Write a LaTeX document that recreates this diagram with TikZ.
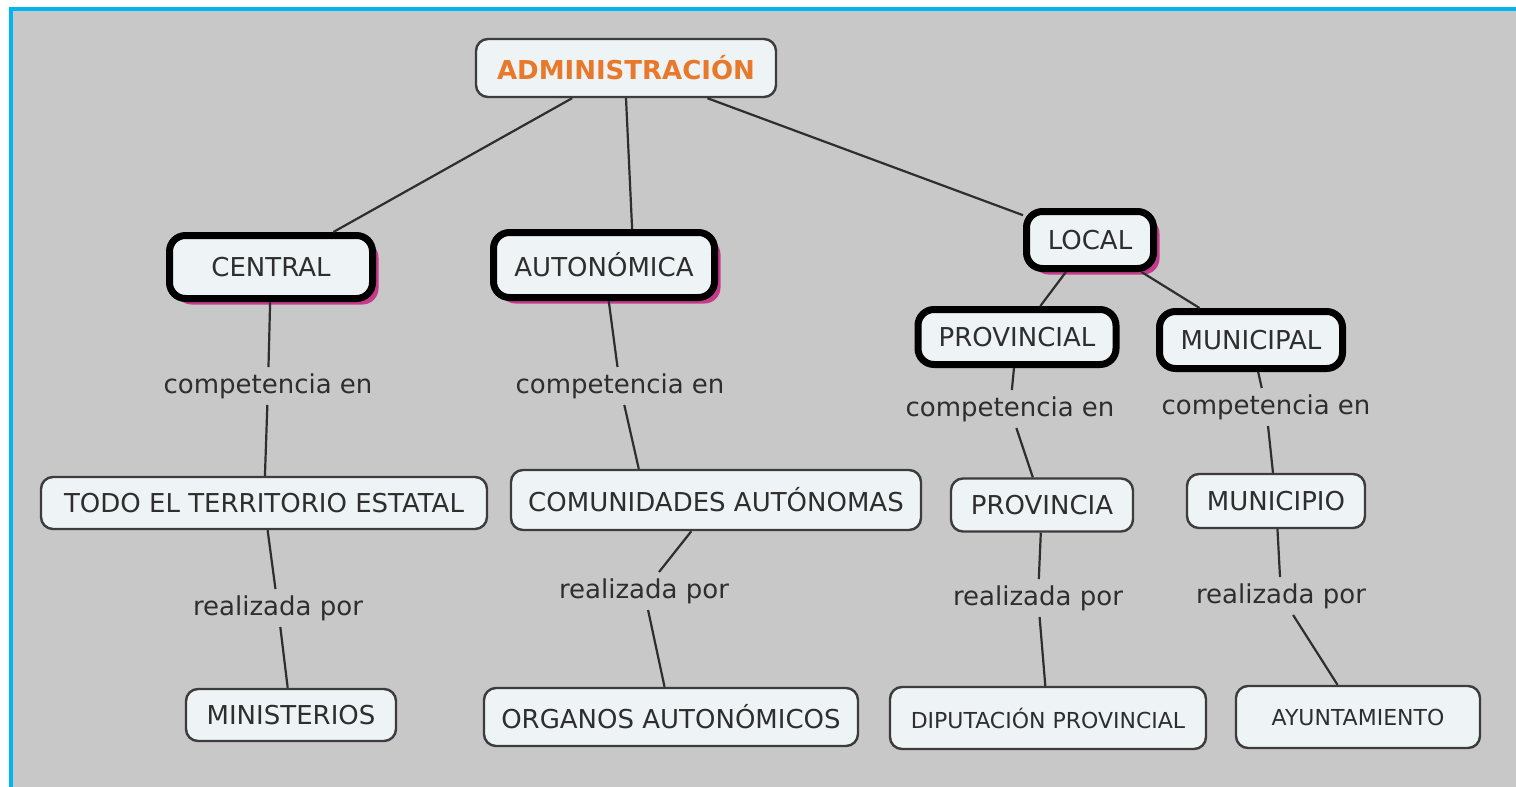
\documentclass[tikz,border=0pt]{standalone}
\usepackage{fontspec}
\setmainfont{DejaVu Sans}
\usetikzlibrary{shadows}
\definecolor{fondo}{HTML}{C8C8C8}
\definecolor{marco}{HTML}{00B4F0}
\definecolor{caja}{HTML}{EEF3F6}
\definecolor{naranja}{HTML}{E8782A}
\definecolor{texto}{HTML}{2E2E2E}
\definecolor{borde}{HTML}{3C3C3C}

\begin{document}
\begin{tikzpicture}[x=0.5pt,y=-0.5pt,
  concepto/.style={draw=borde, line width=1.2pt, fill=caja, rounded corners=6pt,
    text=texto, font=\fontsize{13}{15}\selectfont, inner xsep=4pt},
  grueso/.style={concepto, draw=black, line width=3.5pt, rounded corners=8pt},
  sombra/.style={drop shadow={shadow xshift=3pt, shadow yshift=-3pt, fill=magenta!80!black, opacity=0.9}},
  enlace/.style={text=texto, font=\fontsize{13}{15}\selectfont, inner sep=3pt},
  linea/.style={draw=texto, line width=1.1pt}]
  \useasboundingbox (0,0) rectangle (1516,787);
  \fill[white] (0,0) rectangle (1516,787);
  \fill[fondo] (11,9) rectangle (1516,787);
  \draw[marco, line width=2pt] (11,787) -- (11,9) -- (1516,9);

  % primer nivel
  \node[concepto, minimum width=150pt, minimum height=29pt, text=naranja, font=\fontsize{13}{15}\selectfont\bfseries] (admin) at (626,68) {ADMINISTRACIÓN};
  \node[grueso, sombra, minimum width=101.5pt, minimum height=31.5pt] (central) at (271,267) {CENTRAL};
  \node[grueso, sombra, minimum width=110.5pt, minimum height=32.5pt] (auton) at (604,265) {AUTONÓMICA};
  \node[grueso, sombra, minimum width=63.5pt, minimum height=28.5pt] (local) at (1090,240) {LOCAL};
  \node[grueso, minimum width=99pt, minimum height=27.5pt] (provincial) at (1017,337) {PROVINCIAL};
  \node[grueso, minimum width=91.5pt, minimum height=28.5pt] (municipal) at (1251,340) {MUNICIPAL};

  % competencia
  \node[enlace] (comp1) at (268,386) {competencia en};
  \node[enlace] (comp2) at (620,386) {competencia en};
  \node[enlace] (comp3) at (1010,409) {competencia en};
  \node[enlace] (comp4) at (1266,407) {competencia en};

  \node[concepto, minimum width=223pt, minimum height=26pt] (todo) at (264,503) {TODO EL TERRITORIO ESTATAL};
  \node[concepto, minimum width=205pt, minimum height=30pt] (comun) at (716,500) {COMUNIDADES AUTÓNOMAS};
  \node[concepto, minimum width=91pt, minimum height=26.5pt] (provincia) at (1042,505) {PROVINCIA};
  \node[concepto, minimum width=89pt, minimum height=27pt] (municipio) at (1276,501) {MUNICIPIO};

  % realizada por
  \node[enlace] (real1) at (278,608) {realizada por};
  \node[enlace] (real2) at (644,591) {realizada por};
  \node[enlace] (real3) at (1038,598) {realizada por};
  \node[enlace] (real4) at (1281,596) {realizada por};

  \node[concepto, minimum width=105pt, minimum height=26pt] (minist) at (291,715) {MINISTERIOS};
  \node[concepto, minimum width=187pt, minimum height=29pt] (organos) at (671,717) {ORGANOS AUTONÓMICOS};
  \node[concepto, minimum width=158pt, minimum height=31pt, font=\fontsize{11}{13}\selectfont] (diput) at (1048,718) {DIPUTACIÓN PROVINCIAL};
  \node[concepto, minimum width=122pt, minimum height=31pt, font=\fontsize{11}{13}\selectfont] (ayunt) at (1358,717) {AYUNTAMIENTO};

  \draw[linea] (admin) -- (central);
  \draw[linea] (admin.south) -- (auton.52);
  \draw[linea] (admin) -- (local);
  \draw[linea] (local) -- (provincial);
  \draw[linea] (local) -- (municipal);

  \draw[linea] (central) -- (comp1);
  \draw[linea] (comp1) -- (todo);
  \draw[linea] (auton) -- (comp2);
  \draw[linea] (comp2) -- (comun.158);
  \draw[linea] (provincial) -- (comp3);
  \draw[linea] (comp3) -- (provincia);
  \draw[linea] (municipal) -- (comp4);
  \draw[linea] (comp4) -- (municipio);

  \draw[linea] (todo) -- (real1);
  \draw[linea] (real1) -- (minist);
  \draw[linea] (comun) -- (real2);
  \draw[linea] (real2) -- (organos);
  \draw[linea] (provincia) -- (real3);
  \draw[linea] (real3) -- (diput);
  \draw[linea] (municipio) -- (real4);
  \draw[linea] (real4) -- (ayunt);
\end{tikzpicture}
\end{document}
